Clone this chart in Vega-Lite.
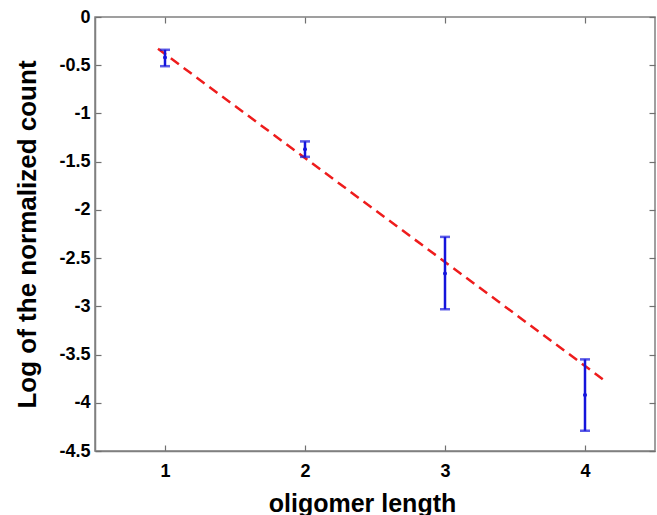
{
  "$schema": "https://vega.github.io/schema/vega-lite/v6.json",
  "width": 560,
  "height": 434,
  "autosize": {"type": "none"},
  "padding": {"left": 95, "top": 17, "right": 2, "bottom": 64},
  "background": "white",
  "config": {
    "view": {"stroke": "#808080", "strokeWidth": 1.5},
    "axis": {
      "domainColor": "#808080",
      "domainWidth": 1.5,
      "tickColor": "#707070",
      "tickWidth": 1.2,
      "grid": false
    }
  },
  "datasets": {
    "pts": [
      {"len": 1, "mean": -0.42, "lo": -0.51, "hi": -0.34},
      {"len": 2, "mean": -1.37, "lo": -1.45, "hi": -1.29},
      {"len": 3, "mean": -2.66, "lo": -3.03, "hi": -2.28},
      {"len": 4, "mean": -3.92, "lo": -4.29, "hi": -3.55}
    ],
    "fit": [
      {"len": 0.95, "val": -0.33},
      {"len": 4.15, "val": -3.78}
    ]
  },
  "layer": [
    {
      "layer": [
        {
          "data": {"name": "fit"},
          "mark": {"type": "line", "color": "#ee1c1c", "strokeWidth": 2.5, "strokeDash": [10, 6]},
          "encoding": {
            "x": {"field": "len", "type": "quantitative", "scale": {"domain": [0.5, 4.5], "nice": false},
              "axis": {"orient": "bottom", "values": [1, 2, 3, 4], "labelExpr": "'' + datum.value", "tickSize": -6, "labelPadding": 17, "title": "oligomer length", "titlePadding": 11,
                "labelFont": "Liberation Sans", "labelFontWeight": "bold", "labelFontSize": 18, "labelColor": "#000000",
                "titleFont": "Liberation Sans", "titleFontWeight": "bold", "titleFontSize": 25, "titleColor": "#000000", "titleX": 267, "titleAlign": "center"}},
            "y": {"field": "val", "type": "quantitative", "scale": {"domain": [-4.5, 0], "nice": false, "zero": false},
              "axis": {"orient": "left", "values": [-4.5, -4, -3.5, -3, -2.5, -2, -1.5, -1, -0.5, 0], "labelExpr": "'' + datum.value", "tickSize": -6, "labelPadding": 11, "title": "Log of the normalized count", "titlePadding": 18,
                "labelFont": "Liberation Sans", "labelFontWeight": "bold", "labelFontSize": 18, "labelColor": "#000000",
                "titleFont": "Liberation Sans", "titleFontWeight": "bold", "titleFontSize": 26, "titleColor": "#000000"}}
          }
        },
        {
          "data": {"name": "pts"},
          "mark": {"type": "rule", "color": "#1414dc", "strokeWidth": 2.5},
          "encoding": {
            "x": {"field": "len", "type": "quantitative"},
            "y": {"field": "lo", "type": "quantitative"},
            "y2": {"field": "hi"}
          }
        },
        {
          "data": {"name": "pts"},
          "mark": {"type": "tick", "orient": "horizontal", "color": "#1414dc", "size": 10, "thickness": 2.5},
          "encoding": {
            "x": {"field": "len", "type": "quantitative"},
            "y": {"field": "lo", "type": "quantitative"}
          }
        },
        {
          "data": {"name": "pts"},
          "mark": {"type": "tick", "orient": "horizontal", "color": "#1414dc", "size": 10, "thickness": 2.5},
          "encoding": {
            "x": {"field": "len", "type": "quantitative"},
            "y": {"field": "hi", "type": "quantitative"}
          }
        },
        {
          "data": {"name": "pts"},
          "mark": {"type": "point", "filled": true, "color": "#1414dc", "size": 16, "opacity": 1},
          "encoding": {
            "x": {"field": "len", "type": "quantitative"},
            "y": {"field": "mean", "type": "quantitative"}
          }
        }
      ]
    },
    {
      "data": {"name": "pts"},
      "mark": {"type": "point", "opacity": 0},
      "encoding": {
        "x": {"field": "len", "type": "quantitative",
          "axis": {"orient": "top", "values": [1, 2, 3, 4], "tickSize": -6, "labels": false, "domain": false, "title": null}},
        "y": {"field": "mean", "type": "quantitative",
          "axis": {"orient": "right", "values": [-4.5, -4, -3.5, -3, -2.5, -2, -1.5, -1, -0.5, 0], "tickSize": -6, "labels": false, "domain": false, "title": null}}
      }
    }
  ],
  "resolve": {"axis": {"x": "independent", "y": "independent"}}
}
